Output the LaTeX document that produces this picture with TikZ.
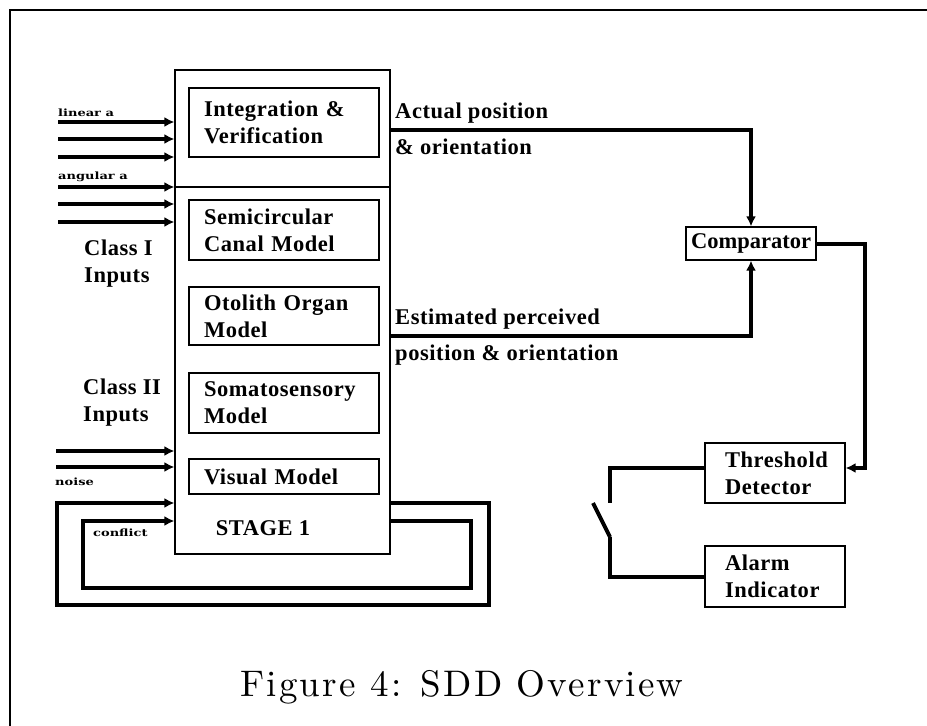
\documentclass[tikz,border=0pt]{standalone}
\usepackage{fontspec}
\usepackage{tikz}
\usetikzlibrary{arrows.meta,positioning,calc}
\newfontfamily\lblfont[LetterSpace=2.5]{Liberation Serif}
\newfontfamily\wideserif[FakeStretch=1.3]{DejaVu Serif}
\newfontfamily\capfont[LetterSpace=6]{lmroman10-regular.otf}
\newcommand{\mainlbl}{\lblfont\bfseries\fontsize{22.5}{27}\selectfont}
\newcommand{\smalllbl}{\wideserif\bfseries\fontsize{10}{12}\selectfont}
\tikzstyle{stagebox}=[draw,line width=1.2pt,minimum width=215pt,minimum height=484pt,inner sep=0pt]
\tikzstyle{model}=[draw,line width=1.2pt,minimum width=190pt,text width=160pt,inner xsep=15pt,inner ysep=0pt,align=left,font=\mainlbl]
\tikzstyle{unit}=[draw,line width=1.2pt,minimum width=140pt,text width=100pt,inner xsep=20pt,inner ysep=0pt,align=left,font=\mainlbl]
\tikzstyle{lbl}=[inner sep=0pt,align=left,font=\mainlbl]
\tikzstyle{tinylbl}=[inner sep=0pt,anchor=west,font=\smalllbl]
\tikzstyle{wire}=[line width=4pt]

\begin{document}
\begin{tikzpicture}[x=1pt,y=-1pt,>={Latex[length=10pt,width=10pt]}]
  \useasboundingbox (0,0) rectangle (927,726);
  \draw[line width=1.2pt] (927,10) -- (10,10) -- (10,726);

      \node[stagebox] at (282.5,312) (stage) {};
      \draw[line width=1.2pt] (stage.west |- 0,187) -- (stage.east |- 0,187);
      \node[model,minimum height=69pt] at (284,122.5) (integ) {Integration \&\\Verification};
      \node[model,minimum height=60pt] at (284,230) (semi) {Semicircular\\Canal Model};
      \node[model,minimum height=58pt] at (284,316) (oto) {Otolith Organ\\Model};
      \node[model,minimum height=60pt] at (284,403) (soma) {Somatosensory\\Model};
      \node[model,minimum height=35pt] at (284,476.5) (vis) {Visual Model};
      \node[lbl] at (263,528) (stagelbl) {STAGE 1};

      \node[lbl,anchor=west] at (84,264) (cls1) {Class I\\Inputs};
      \node[lbl,anchor=west] at (83,403) (cls2) {Class II\\Inputs};
      \node[tinylbl] at (58,113) (lin) {linear a};
      \node[tinylbl] at (58,177) (ang) {angular a};
      \node[tinylbl] at (55,482) (noise) {noise};
      \node[tinylbl] at (93,533) (confl) {conflict};

      \coordinate (in1) at (58,122);
      \coordinate (in2) at (58,139);
      \coordinate (in3) at (58,157);
      \coordinate (in4) at (58,187);
      \coordinate (in5) at (58,204);
      \coordinate (in6) at (58,222);
      \coordinate (in7) at (56,451);
      \coordinate (in8) at (56,467);
      \draw[wire,->] (in1) -- (in1 -| stage.west);
      \draw[wire,->] (in2) -- (in2 -| stage.west);
      \draw[wire,->] (in3) -- (in3 -| stage.west);
      \draw[wire,->] (in4) -- (in4 -| stage.west);
      \draw[wire,->] (in5) -- (in5 -| stage.west);
      \draw[wire,->] (in6) -- (in6 -| stage.west);
      \draw[wire,->] (in7) -- (in7 -| stage.west);
      \draw[wire,->] (in8) -- (in8 -| stage.west);

      \coordinate (loopa) at (489,605);
      \coordinate (loopb) at (57,503);
      \coordinate (loopc) at (471,588);
      \coordinate (loopd) at (83,521);
      \draw[wire,->] (stage.east |- loopb) -| (loopa) -| (loopb) -- (stage.west |- loopb);
      \draw[wire,->] (stage.east |- loopd) -| (loopc) -| (loopd) -- (stage.west |- loopd);

      \node[lbl,anchor=west] at (395,113) (actA) {Actual position};
      \node[lbl,anchor=west] at (395,147) (actB) {\& orientation};
      \node[lbl,anchor=west] at (395,319) (estA) {Estimated perceived};
      \node[lbl,anchor=west] at (395,355) (estB) {position \& orientation};

      \node[draw,line width=1.2pt,minimum width=130pt,minimum height=33pt,inner sep=0pt,font=\mainlbl\addfontfeatures{LetterSpace=0}] at (751,243.5) (comp) {Comparator};
      \node[unit,minimum height=60pt] at (775,473) (thresh) {Threshold\\Detector};
      \node[unit,minimum height=61pt] at (775,576.5) (alarm) {Alarm\\Indicator};

      \coordinate (act) at (390,130);
      \coordinate (est) at (390,336);
      \coordinate (turn) at (865,468);
      \draw[wire,->] (stage.east |- act) -| (comp.north);
      \draw[wire,->] (stage.east |- est) -| (comp.south);
      \draw[wire,->] (comp.east) -| (turn) -- (turn -| thresh.east);

      \coordinate (swtop) at (610,503);
      \coordinate (swblade) at (593,503);
      \coordinate (swpivot) at (610,537);
      \draw[wire] ([yshift=5pt]thresh.west) -| (swtop);
      \draw[wire] (swblade) -- (swpivot);
      \draw[wire] (swpivot) |- (alarm.west);

      \node at (462,687) (caption) {\capfont\fontsize{37}{40}\selectfont Figure 4: SDD Overview};
\end{tikzpicture}
\end{document}
